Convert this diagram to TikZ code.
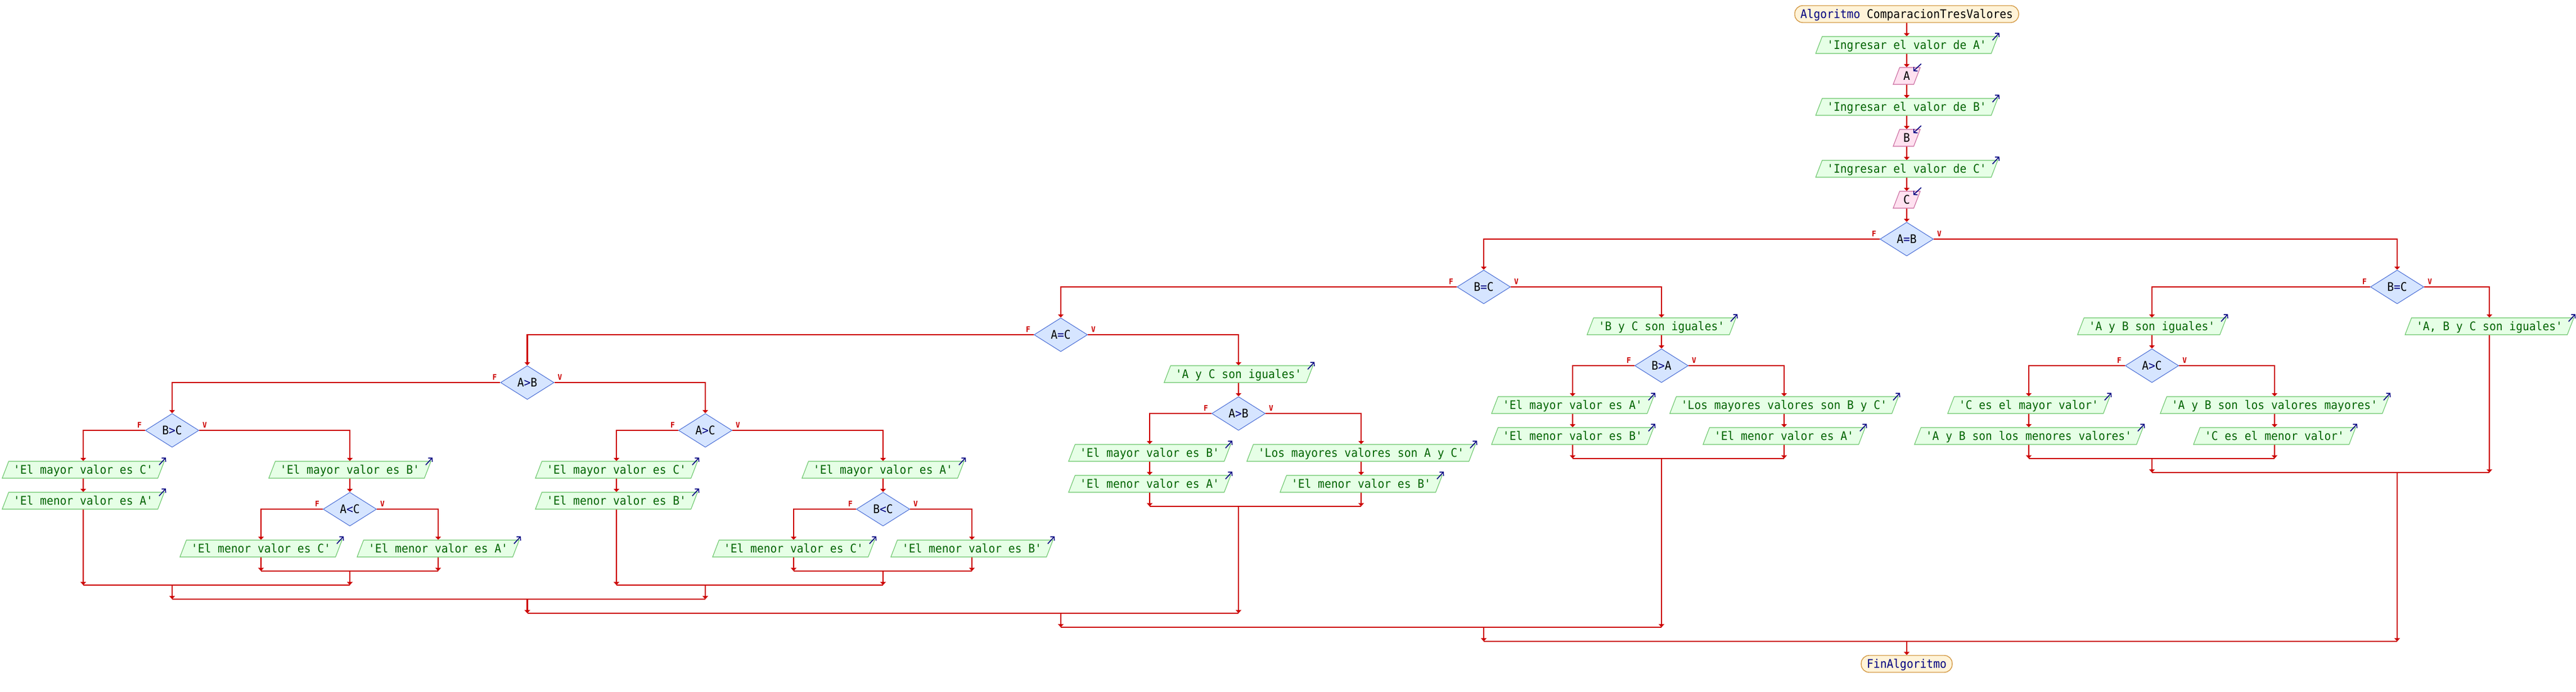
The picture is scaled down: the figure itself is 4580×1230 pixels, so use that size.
\documentclass[tikz,border=0pt]{standalone}
\usepackage{fontspec}
\setmonofont[FakeStretch=0.93]{DejaVu Sans Mono}
\usetikzlibrary{shapes.geometric,arrows.meta}

\definecolor{flowred}{HTML}{CC0000}
\definecolor{outfill}{HTML}{E6FFE6}
\definecolor{outdraw}{HTML}{66C466}
\definecolor{outtext}{HTML}{006400}
\definecolor{infill}{HTML}{FFE1F0}
\definecolor{indraw}{HTML}{C8649B}
\definecolor{decfill}{HTML}{D6E5FF}
\definecolor{decdraw}{HTML}{4C6FD6}
\definecolor{termfill}{HTML}{FFF3D8}
\definecolor{termdraw}{HTML}{D49A46}
\definecolor{marknavy}{HTML}{000080}

\tikzset{
  term/.style={draw=termdraw, fill=termfill, line width=0.4pt, rounded corners=4pt,
    inner xsep=0.1cm, inner ysep=0pt, text height=0.22cm, text depth=0.08cm},
  outbox/.style={trapezium, trapezium left angle=69, trapezium right angle=111,
    draw=outdraw, fill=outfill, text=outtext, line width=0.3pt,
    inner xsep=0.085cm, inner ysep=0pt, text height=0.22cm, text depth=0.08cm},
  inbox/.style={outbox, draw=indraw, fill=infill, text=black, inner xsep=0.066cm},
  decision/.style={diamond, draw=decdraw, fill=decfill, line width=0.3pt,
    minimum width=0.95cm, minimum height=0.6cm, inner sep=0pt},
  flow/.style={draw=flowred, line width=0.65pt},
  arr/.style={flow, -{Triangle[length=1.6pt,width=2.8pt]}},
  outmark/.style={draw=marknavy, line width=0.45pt, -{Straight Barb[length=1.3pt,width=2.8pt]}},
  flab/.style={text=flowred, inner sep=0pt, font=\ttfamily\bfseries\fontsize{3.9pt}{4pt}\selectfont},
}
\newcommand{\op}[1]{\textcolor{marknavy}{#1}}

\begin{document}
\begin{tikzpicture}[x=0.01cm, y=-0.01cm, font=\ttfamily\fontsize{6pt}{6.5pt}\selectfont]
\useasboundingbox (0,0) rectangle (4580,1230);

\node[term] (start) at (3390,25) {\textcolor{marknavy}{Algoritmo} ComparacionTresValores};
\node[outbox] (askA) at (3390,80) {'Ingresar el valor de A'};
\node[inbox] (readA) at (3390,135) {A};
\node[outbox] (askB) at (3390,190) {'Ingresar el valor de B'};
\node[inbox] (readB) at (3390,245) {B};
\node[outbox] (askC) at (3390,300) {'Ingresar el valor de C'};
\node[inbox] (readC) at (3390,355) {C};
\node[decision] (AeqB) at (3390,425) {A\op{=}B};

\node[decision] (BeqCv) at (4262,510) {B\op{=}C};
\node[outbox] (ABCsame) at (4426,580) {'A, B y C son iguales'};
\node[outbox] (ABsame) at (3826,580) {'A y B son iguales'};
\node[decision] (AgtCv) at (3826,650) {A\op{>}C};
\node[outbox] (Cmay) at (3607,720) {'C es el mayor valor'};
\node[outbox] (ABmen) at (3607,775) {'A y B son los menores valores'};
\node[outbox] (ABmay) at (4044,720) {'A y B son los valores mayores'};
\node[outbox] (Cmen) at (4044,775) {'C es el menor valor'};

\node[decision] (BeqCf) at (2638,510) {B\op{=}C};
\node[outbox] (BCsame) at (2954,580) {'B y C son iguales'};
\node[decision] (BgtA) at (2954,650) {B\op{>}A};
\node[outbox] (mayA1) at (2796,720) {'El mayor valor es A'};
\node[outbox] (menB1) at (2796,775) {'El menor valor es B'};
\node[outbox] (mayBC) at (3172,720) {'Los mayores valores son B y C'};
\node[outbox] (menA1) at (3172,775) {'El menor valor es A'};

\node[decision] (AeqC) at (1886,595) {A\op{=}C};
\node[outbox] (ACsame) at (2202,665) {'A y C son iguales'};
\node[decision] (AgtBv) at (2202,735) {A\op{>}B};
\node[outbox] (mayB1) at (2044,805) {'El mayor valor es B'};
\node[outbox] (menA2) at (2044,860) {'El menor valor es A'};
\node[outbox] (mayAC) at (2420,805) {'Los mayores valores son A y C'};
\node[outbox] (menB2) at (2420,860) {'El menor valor es B'};

\node[decision] (AgtB) at (937.5,680) {A\op{>}B};
\node[decision] (BgtC) at (306,765) {B\op{>}C};
\node[outbox] (mayC1) at (148,835) {'El mayor valor es C'};
\node[outbox] (menA3) at (148,890) {'El menor valor es A'};
\node[outbox] (mayB2) at (622,835) {'El mayor valor es B'};
\node[decision] (AltC) at (622,905) {A\op{<}C};
\node[outbox] (menC1) at (464,975) {'El menor valor es C'};
\node[outbox] (menA4) at (779,975) {'El menor valor es A'};

\node[decision] (AgtC) at (1254,765) {A\op{>}C};
\node[outbox] (mayC2) at (1096,835) {'El mayor valor es C'};
\node[outbox] (menB3) at (1096,890) {'El menor valor es B'};
\node[outbox] (mayA2) at (1570,835) {'El mayor valor es A'};
\node[decision] (BltC) at (1570,905) {B\op{<}C};
\node[outbox] (menC2) at (1411,975) {'El menor valor es C'};
\node[outbox] (menB4) at (1728,975) {'El menor valor es B'};

\node[term] (fin) at (3390,1180) {\textcolor{marknavy}{FinAlgoritmo}};

\foreach \d in {AeqB,BeqCv,AgtCv,BeqCf,BgtA,AeqC,AgtBv,AgtB,BgtC,AltC,AgtC,BltC} {
  \node[flab] (F\d) at ([shift={(-10,-10)}]\d.west) {F};
  \node[flab] (V\d) at ([shift={(10,-10)}]\d.east) {V};
}
\foreach \o in {askA,askB,askC,ABCsame,ABsame,Cmay,ABmen,ABmay,Cmen,BCsame,mayA1,menB1,mayBC,menA1,
    ACsame,mayB1,menA2,mayAC,menB2,mayC1,menA3,mayB2,menC1,menA4,mayC2,menB3,mayA2,menC2,menB4}
  \draw[outmark] ([shift={(-10,7)}]\o.top right corner) -- ([shift={(2,-6)}]\o.top right corner);
\foreach \i in {readA,readB,readC}
  \draw[outmark] ([shift={(1,-6)}]\i.top right corner) -- ([shift={(-13,7)}]\i.top right corner);

\draw[arr] (start) -- (askA);
\draw[arr] (askA) -- (readA);
\draw[arr] (readA) -- (askB);
\draw[arr] (askB) -- (readB);
\draw[arr] (readB) -- (askC);
\draw[arr] (askC) -- (readC);
\draw[arr] (readC) -- (AeqB);
\draw[arr] (AeqB.west) -| (BeqCf);
\draw[arr] (AeqB.east) -| (BeqCv);

\draw[arr] (BeqCv.west) -| (ABsame);
\draw[arr] (BeqCv.east) -| (ABCsame);
\draw[arr] (ABsame) -- (AgtCv);
\draw[arr] (AgtCv.west) -| (Cmay);
\draw[arr] (Cmay) -- (ABmen);
\draw[arr] (AgtCv.east) -| (ABmay);
\draw[arr] (ABmay) -- (Cmen);
\coordinate (jAgtCv) at (3826,815);
\draw[arr] (ABmen) -- (ABmen |- jAgtCv);
\draw[arr] (Cmen) -- (Cmen |- jAgtCv);
\draw[flow] (ABmen |- jAgtCv) -- (Cmen |- jAgtCv);
\coordinate (jBeqCv) at (4262,840);
\draw[arr] (jAgtCv) -- (jAgtCv |- jBeqCv);
\draw[arr] (ABCsame) -- (ABCsame |- jBeqCv);
\draw[flow] (ABsame |- jBeqCv) -- (ABCsame |- jBeqCv);

\draw[arr] (BeqCf.west) -| (AeqC);
\draw[arr] (BeqCf.east) -| (BCsame);
\draw[arr] (BCsame) -- (BgtA);
\draw[arr] (BgtA.west) -| (mayA1);
\draw[arr] (mayA1) -- (menB1);
\draw[arr] (BgtA.east) -| (mayBC);
\draw[arr] (mayBC) -- (menA1);
\coordinate (jBgtA) at (2954,815);
\draw[arr] (menB1) -- (menB1 |- jBgtA);
\draw[arr] (menA1) -- (menA1 |- jBgtA);
\draw[flow] (menB1 |- jBgtA) -- (menA1 |- jBgtA);

\draw[arr] (AeqC.west) -| (AgtB);
\draw[arr] (AeqC.east) -| (ACsame);
\draw[arr] (ACsame) -- (AgtBv);
\draw[arr] (AgtBv.west) -| (mayB1);
\draw[arr] (mayB1) -- (menA2);
\draw[arr] (AgtBv.east) -| (mayAC);
\draw[arr] (mayAC) -- (menB2);
\coordinate (jAgtBv) at (2202,900);
\draw[arr] (menA2) -- (menA2 |- jAgtBv);
\draw[arr] (menB2) -- (menB2 |- jAgtBv);
\draw[flow] (menA2 |- jAgtBv) -- (menB2 |- jAgtBv);

\draw[arr] (AgtB.west) -| (BgtC);
\draw[arr] (AgtB.east) -| (AgtC);
\draw[arr] (BgtC.west) -| (mayC1);
\draw[arr] (mayC1) -- (menA3);
\draw[arr] (BgtC.east) -| (mayB2);
\draw[arr] (mayB2) -- (AltC);
\draw[arr] (AltC.west) -| (menC1);
\draw[arr] (AltC.east) -| (menA4);
\coordinate (jAltC) at (622,1015);
\draw[arr] (menC1) -- (menC1 |- jAltC);
\draw[arr] (menA4) -- (menA4 |- jAltC);
\draw[flow] (menC1 |- jAltC) -- (menA4 |- jAltC);
\coordinate (jBgtC) at (306,1040);
\draw[arr] (menA3) -- (menA3 |- jBgtC);
\draw[arr] (jAltC) -- (jAltC |- jBgtC);
\draw[flow] (menA3 |- jBgtC) -- (jAltC |- jBgtC);

\draw[arr] (AgtC.west) -| (mayC2);
\draw[arr] (mayC2) -- (menB3);
\draw[arr] (AgtC.east) -| (mayA2);
\draw[arr] (mayA2) -- (BltC);
\draw[arr] (BltC.west) -| (menC2);
\draw[arr] (BltC.east) -| (menB4);
\coordinate (jBltC) at (1570,1015);
\draw[arr] (menC2) -- (menC2 |- jBltC);
\draw[arr] (menB4) -- (menB4 |- jBltC);
\draw[flow] (menC2 |- jBltC) -- (menB4 |- jBltC);
\coordinate (jAgtC) at (1254,1040);
\draw[arr] (menB3) -- (menB3 |- jAgtC);
\draw[arr] (jBltC) -- (jBltC |- jAgtC);
\draw[flow] (menB3 |- jAgtC) -- (jBltC |- jAgtC);

\coordinate (jAgtB) at (937.5,1065);
\draw[arr] (jBgtC) -- (jBgtC |- jAgtB);
\draw[arr] (jAgtC) -- (jAgtC |- jAgtB);
\draw[flow] (jBgtC |- jAgtB) -- (jAgtC |- jAgtB);
\coordinate (jAeqC) at (1886,1090);
\draw[arr] (jAgtB) -- (jAgtB |- jAeqC);
\draw[arr] (jAgtBv) -- (jAgtBv |- jAeqC);
\draw[flow] (jAgtB |- jAeqC) -- (jAgtBv |- jAeqC);
\coordinate (jBeqCf) at (2638,1115);
\draw[arr] (jAeqC) -- (jAeqC |- jBeqCf);
\draw[arr] (jBgtA) -- (jBgtA |- jBeqCf);
\draw[flow] (jAeqC |- jBeqCf) -- (jBgtA |- jBeqCf);
\coordinate (jAeqB) at (3390,1140);
\draw[arr] (jBeqCf) -- (jBeqCf |- jAeqB);
\draw[arr] (jBeqCv) -- (jBeqCv |- jAeqB);
\draw[flow] (jBeqCf |- jAeqB) -- (jBeqCv |- jAeqB);
\draw[arr] (jAeqB) -- (fin);
\end{tikzpicture}
\end{document}
